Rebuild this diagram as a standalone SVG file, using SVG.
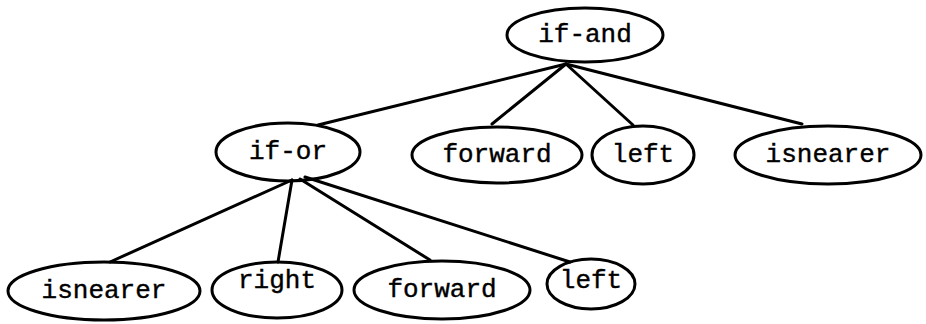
<svg xmlns="http://www.w3.org/2000/svg" width="926" height="324" viewBox="0 0 926 324">
<style>
.n ellipse{fill:none;stroke:#000;stroke-width:3}
.n text{font-family:"Liberation Mono","Courier New",monospace;font-size:26px;fill:#000;text-anchor:middle;stroke:#000;stroke-width:0.4}
.e line{stroke:#000;stroke-width:3;stroke-linecap:round}
</style>
<rect width="926" height="324" fill="#fff"/>
<g id="edges" class="e">
<line x1="566" y1="64" x2="318" y2="125"/>
<line x1="566" y1="64" x2="492" y2="124"/>
<line x1="566" y1="64" x2="633" y2="125"/>
<line x1="566" y1="64" x2="802" y2="124"/>
<line x1="292" y1="180" x2="110" y2="262"/>
<line x1="292" y1="180" x2="278" y2="262"/>
<line x1="300" y1="179" x2="430" y2="260"/>
<line x1="305" y1="177" x2="570" y2="262"/>
</g>
<g id="n-if-and" class="n"><ellipse cx="585" cy="35" rx="78" ry="27"/><text x="585" y="42">if-and</text></g>
<g id="n-if-or" class="n"><ellipse cx="288" cy="152" rx="72" ry="29"/><text x="288" y="159">if-or</text></g>
<g id="n-forward1" class="n"><ellipse cx="497" cy="155" rx="85" ry="28"/><text x="497" y="162">forward</text></g>
<g id="n-left1" class="n"><ellipse cx="643" cy="155" rx="51" ry="29"/><text x="643" y="162">left</text></g>
<g id="n-isnearer1" class="n"><ellipse cx="828" cy="155" rx="93" ry="29"/><text x="828" y="162">isnearer</text></g>
<g id="n-isnearer2" class="n"><ellipse cx="104" cy="291" rx="96" ry="29"/><text x="104" y="298">isnearer</text></g>
<g id="n-right" class="n"><ellipse cx="277" cy="290" rx="65" ry="28"/><text x="277" y="288">right</text></g>
<g id="n-forward2" class="n"><ellipse cx="442" cy="290" rx="88" ry="29"/><text x="442" y="297">forward</text></g>
<g id="n-left2" class="n"><ellipse cx="591" cy="284" rx="44" ry="25"/><text x="591" y="288">left</text></g>
</svg>
